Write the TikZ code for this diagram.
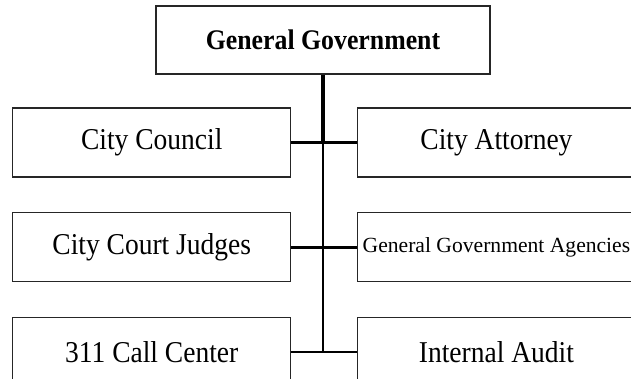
\documentclass[tikz,border=0pt]{standalone}
\usepackage{fontspec}
\setmainfont{Liberation Serif}
\usepackage{graphicx}
\usetikzlibrary{positioning}

\newcommand{\talltext}[1]{\scalebox{1}[1.1]{#1}}

\begin{document}
\begin{tikzpicture}[x=1pt, y=-1pt,
    unitbox/.style={draw=black!85, line width=1.2pt, rectangle, inner sep=0pt,
        minimum width=278pt, minimum height=69pt, font=\fontsize{27.5}{32}\selectfont},
    trunk/.style={line width=4.5pt},
    branch/.style={line width=2.6pt}]
    \useasboundingbox (0,0) rectangle (631,379);

    \node[unitbox, minimum width=334pt, minimum height=68pt,
        font=\fontsize{25.8}{30}\selectfont\bfseries] (gov) at (323,40) {\talltext{General Government}};

    % left column
    \node[unitbox] (council) at (151.75,142.5) {\talltext{City Council}};
    \node[unitbox, below=34.5pt of council] (judges) {\talltext{City Court Judges}};
    \node[unitbox, below=34.5pt of judges] (callcenter) {\talltext{311 Call Center}};

    % right column
    \node[unitbox, right=65.5pt of council] (attorney) {\talltext{City Attorney}};
    \node[unitbox, right=65.5pt of judges, font=\fontsize{21.6}{26}\selectfont] (agencies) {General Government Agencies};
    \node[unitbox, right=65.5pt of callcenter] (audit) {\talltext{Internal Audit}};

    \coordinate (j1) at (gov.south |- council.east);
    \coordinate (j3) at (gov.south |- callcenter.east);

    \draw[trunk] (gov.south) -- (j1);
    \draw[branch] (j1) -- (j3);
    \draw[branch] (council.east) -- (attorney.west);
    \draw[branch] (judges.east) -- (agencies.west);
    \draw[branch] (callcenter.east) -- (audit.west);
\end{tikzpicture}
\end{document}
